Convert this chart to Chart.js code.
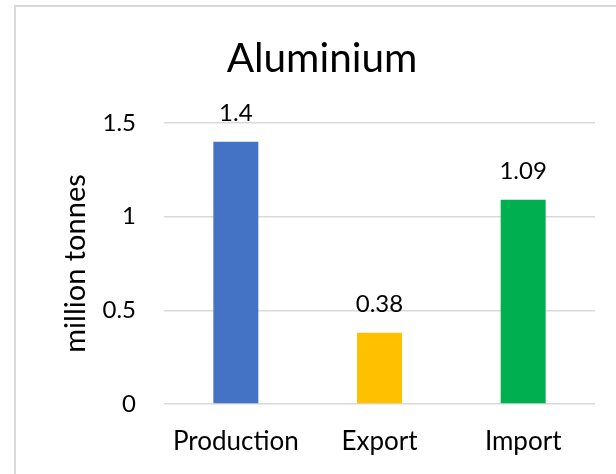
<!DOCTYPE html>
<html>
<head>
<meta charset="utf-8">
<script src="https://cdn.jsdelivr.net/npm/chart.js@4"></script>
<style>
  html, body { margin: 0; padding: 0; background: #fff; overflow: hidden; }
  #wrap { position: absolute; left: 0; top: 0; width: 616px; height: 474px; }
</style>
</head>
<body>
<div id="wrap"><canvas id="c" width="616" height="474"></canvas></div>
<script>
const chartTitle = "Aluminium";
const yAxisTitle = "million tonnes";
const categories = ["Production", "Export", "Import"];
const values = [1.4, 0.38, 1.09];
const valueLabels = ["1.4", "0.38", "1.09"];
const barColors = ["#4472C4", "#FFC000", "#00B050"];
const yTicks = [0, 0.5, 1, 1.5];

const FONT = "Lato, 'Noto Sans', sans-serif";

const framePlugin = {
  id: 'frame',
  beforeDraw(chart) {
    const ctx = chart.ctx;
    ctx.save();
    ctx.fillStyle = '#ffffff';
    ctx.fillRect(0, 0, chart.width, chart.height);
    ctx.strokeStyle = '#d9d9d9';
    ctx.lineWidth = 2;
    ctx.strokeRect(15, 6, 700, 700);
    ctx.restore();
  },
  afterDraw(chart) {
    const ctx = chart.ctx;
    ctx.save();
    ctx.fillStyle = '#000';
    ctx.font = "40.5px " + FONT;
    ctx.textAlign = 'center';
    ctx.textBaseline = 'alphabetic';
    ctx.fillText(chartTitle, 322, 72);
    // data labels
    ctx.font = "24px " + FONT;
    const meta = chart.getDatasetMeta(0);
    meta.data.forEach((bar, i) => {
      ctx.fillText(valueLabels[i], bar.x, bar.y - 21);
    });
    ctx.restore();
  }
};

new Chart(document.getElementById('c'), {
  type: 'bar',
  data: {
    labels: categories,
    datasets: [{
      data: values,
      backgroundColor: barColors,
      borderWidth: 0,
      categoryPercentage: 1,
      barPercentage: 0.313
    }]
  },
  options: {
    responsive: false,
    animation: false,
    events: [],
    layout: { padding: { top: 123, right: 21, bottom: 0, left: 0 } },
    plugins: {
      legend: { display: false },
      title: { display: false },
      tooltip: { enabled: false }
    },
    scales: {
      x: {
        grid: { display: false, drawTicks: false },
        border: { display: false },
        ticks: { color: '#000', font: { family: FONT, size: 26 }, padding: 22.5 },
        afterFit(scale) { scale.height = 70; }
      },
      y: {
        min: 0,
        max: 1.5,
        afterBuildTicks(scale) { scale.ticks = yTicks.map(v => ({ value: v })); },
        grid: { color: '#d9d9d9', lineWidth: 1.5, drawTicks: false },
        border: { display: false },
        ticks: {
          color: '#000',
          font: { family: FONT, size: 24 },
          padding: 28,
          callback: (v) => String(v)
        },
        title: {
          display: true,
          text: yAxisTitle,
          color: '#000',
          font: { family: FONT, size: 29 },
          padding: { top: 58, bottom: 0 }
        },
        afterFit(scale) { scale.width = 164; }
      }
    }
  },
  plugins: [framePlugin]
});
</script>
</body>
</html>
